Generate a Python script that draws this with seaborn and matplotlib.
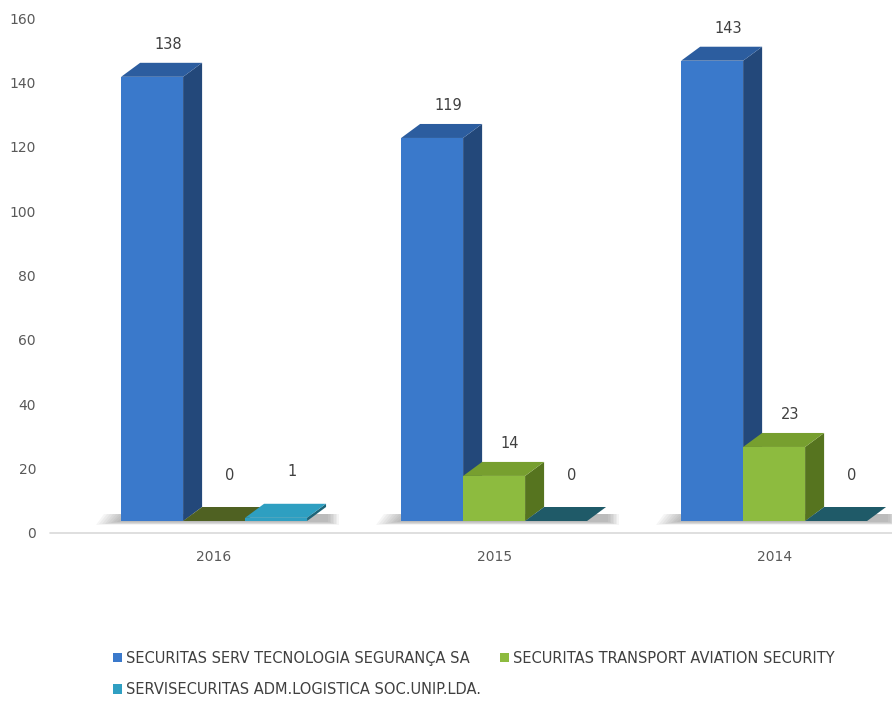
import matplotlib
matplotlib.use("Agg")
import matplotlib.pyplot as plt
import seaborn as sns
import pandas as pd
from matplotlib.patches import Polygon, Patch

# Veriler
anos = ["2016", "2015", "2014"]
empresas = [
    "SECURITAS SERV TECNOLOGIA SEGURANÇA SA",
    "SECURITAS TRANSPORT AVIATION SECURITY",
    "SERVISECURITAS ADM.LOGISTICA SOC.UNIP.LDA.",
]
valores_serv = [138, 119, 143]
valores_transport = [0, 14, 23]
valores_servisec = [1, 0, 0]

# cores: frente, lado, topo, topo quando valor = 0
cor_frente = ["#3a79cb", "#8dbb3f", "#2f9fc2"]
cor_lado = ["#23487a", "#56741f", "#1d6478"]
cor_topo = ["#2c5d9f", "#779f2f", "#2e9fc1"]
cor_zero = ["#2c5d9f", "#4f6122", "#1f5a68"]

df = pd.DataFrame({
    "Ano": anos * 3,
    "Empresa": [empresas[0]] * 3 + [empresas[1]] * 3 + [empresas[2]] * 3,
    "Valor": valores_serv + valores_transport + valores_servisec,
})

sns.set_style("white")
plt.rcParams["font.family"] = ["DejaVu Sans"]

fig = plt.figure(figsize=(8.92, 7.05), dpi=100)
ax = fig.add_axes([50 / 892, 1 - 533 / 705, 842 / 892, 515 / 705])

sns.barplot(data=df, x="Ano", y="Valor", hue="Empresa", order=anos, hue_order=empresas,
            palette=cor_frente, width=0.664, gap=0, legend=False, ax=ax,
            saturation=1, linewidth=0)

ax.set_xlim(-0.586, 2.421)
ax.set_ylim(0, 160)
ax.set_yticks(range(0, 161, 20))
ax.set_xlabel("")
ax.set_ylabel("")
for s in ax.spines.values():
    s.set_visible(False)
ax.axhline(0, color="#d9d9d9", linewidth=1.2, zorder=1, clip_on=False)
ax.tick_params(axis="both", length=0, labelsize=10, colors="#595959")
ax.tick_params(axis="x", pad=12)
ax.tick_params(axis="y", pad=10)

# escala em pixels para o efeito 3D
x0p, y0p = ax.transData.transform((0, 0))
x1p, y1p = ax.transData.transform((1, 1))
px_x = x1p - x0p
px_y = y1p - y0p
dx = 19 / px_x
dy = 14 / px_y
elev = 12 / px_y

for i, cont in enumerate(ax.containers):
    z = 3 + i
    for j, bar in enumerate(cont):
        x = bar.get_x()
        w = bar.get_width()
        h = bar.get_height()
        bar.set_y(elev)
        bar.set_zorder(z)
        base = elev
        topo = base + h
        # sombra suave no chão
        if i == 0:
            for k in range(8):
                sx = x - (4 + 3 * k) / px_x
                ex = x + 3 * w + dx + (2 + 1.5 * k) / px_x
                sombra = Polygon([(sx, base - (1 + 0.4 * k) / px_y), (ex, base - (1 + 0.4 * k) / px_y),
                                  (ex, base + dy * 0.5), (sx + 8 / px_x, base + dy * 0.5)],
                                 closed=True, facecolor="#404040", alpha=0.05, linewidth=0, zorder=2)
                ax.add_patch(sombra)
        # lado
        if h > 0:
            lado = Polygon([(x + w, base), (x + w + dx, base + dy), (x + w + dx, topo + dy), (x + w, topo)],
                           closed=True, facecolor=cor_lado[i], linewidth=0, zorder=z)
            ax.add_patch(lado)
        # topo
        cor = cor_topo[i] if h > 0.5 else cor_zero[i]
        tampa = Polygon([(x, topo), (x + w, topo), (x + w + dx, topo + dy), (x + dx, topo + dy)],
                        closed=True, facecolor=cor, linewidth=0, zorder=z + 0.5)
        ax.add_patch(tampa)
        # rótulo
        acima = 32 if h > 2 else 46
        ax.text(x + w / 2 + 16 / px_x, topo + acima / px_y, f"{h:.0f}", ha="center", va="center",
                fontsize=10.5, color="#404040", zorder=10)

# legenda (preenchida por linhas)
ordem = [0, 2, 1]
handles = [Patch(facecolor=cor_frente[k], edgecolor="none") for k in ordem]
rotulos = [empresas[k] for k in ordem]
fig.legend(handles, rotulos, loc="center", bbox_to_anchor=(474 / 892, 1 - 674 / 705), ncol=2,
           frameon=False, fontsize=10.5, labelcolor="#404040", handlelength=0.6, handleheight=0.6,
           handletextpad=0.3, columnspacing=1.3, labelspacing=1.1)

plt.savefig("out.png", dpi=100)
